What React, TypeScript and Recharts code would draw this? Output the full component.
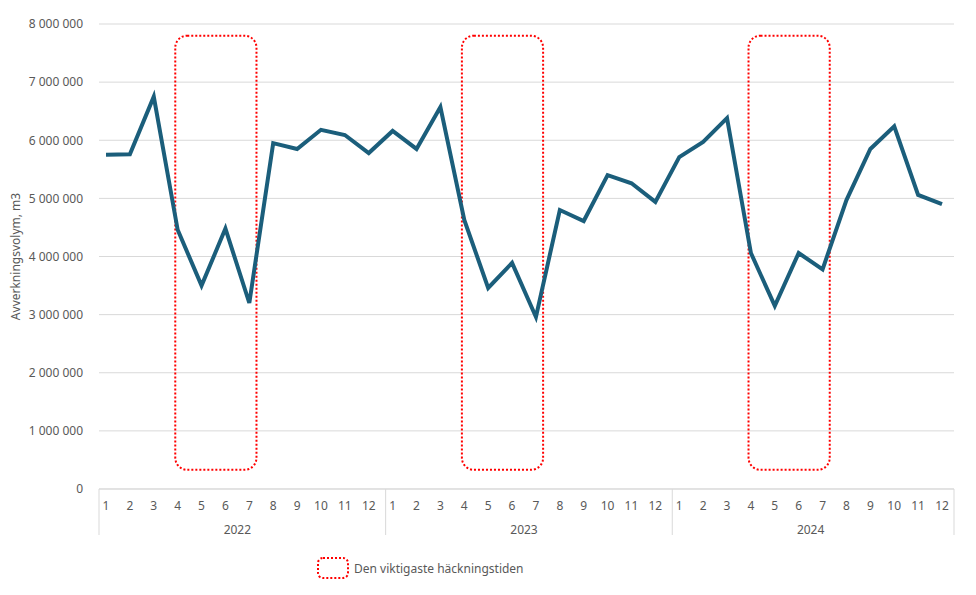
import {
  LineChart, Line, XAxis, YAxis, CartesianGrid,
  ReferenceArea, Legend, Label,
} from 'recharts'

const YEARS = ['2022', '2023', '2024']
const MONTHS = [1, 2, 3, 4, 5, 6, 7, 8, 9, 10, 11, 12]

const VOL_2022 = [5750000, 5760000, 6750000, 4460000, 3500000, 4480000, 3200000, 5950000, 5850000, 6180000, 6090000, 5780000]
const VOL_2023 = [6160000, 5850000, 6570000, 4630000, 3460000, 3890000, 2960000, 4800000, 4610000, 5400000, 5260000, 4940000]
const VOL_2024 = [5710000, 5970000, 6380000, 4060000, 3150000, 4060000, 3780000, 4970000, 5850000, 6240000, 5060000, 4900000]

const Y_TICKS = [0, 1000000, 2000000, 3000000, 4000000, 5000000, 6000000, 7000000, 8000000]

// häckningstid: april–juli
const NEST_FROM = 4
const NEST_TO = 7
const NEST_LOW = 330000
const NEST_HIGH = 7800000

const LEGEND_TEXT = 'Den viktigaste häckningstiden'

const series = [VOL_2022, VOL_2023, VOL_2024]
const data = YEARS.flatMap((y, yi) =>
  MONTHS.map((m, mi) => ({ key: `${y}-${m}`, year: y, month: m, volym: series[yi][mi] }))
)

const W = 960
const H = 580
const MARGIN = { top: 16, right: 14, left: 0, bottom: 7 }
const Y_W = 91
const PAD = { left: 7, right: 12 }
const PLOT_W = W - MARGIN.left - MARGIN.right - Y_W
const STEP = (PLOT_W - PAD.left - PAD.right) / (data.length - 1)

const TXT = '#595959'
const GRID = '#d9d9d9'
const FONT = '"Noto Sans", sans-serif'

const fmt = (v: number) => String(v).replace(/\B(?=(\d{3})+(?!\d))/g, ' ')

function MonthTick(props: any) {
  const { x, y, payload, index } = props
  const d = data[index] ?? data.find(r => r.key === payload.value)
  if (!d) return null
  return (
    <g>
      <text x={x} y={y + 21} textAnchor="middle" fill={TXT} fontSize={12} fontFamily={FONT}>
        {d.month}
      </text>
      {d.month === 1 && (
        <line x1={x - PAD.left} x2={x - PAD.left} y1={y} y2={y + 46} stroke={GRID} />
      )}
      {index === data.length - 1 && (
        <line x1={x + PAD.right} x2={x + PAD.right} y1={y} y2={y + 46} stroke={GRID} />
      )}
      {d.month === 6 && (
        <text x={x + STEP / 2} y={y + 45} textAnchor="middle" fill={TXT} fontSize={12} fontFamily={FONT}>
          {d.year}
        </text>
      )}
    </g>
  )
}

function NestBox(props: any) {
  const { x, y, width, height } = props
  if (x == null) return null
  const left = x - STEP * 0.1
  const right = x + width + STEP * 0.3
  return (
    <rect
      x={left} y={y} width={right - left} height={height}
      rx={12} ry={12} fill="none" stroke="#ff0000" strokeWidth={2} strokeDasharray="2 2"
    />
  )
}

function NestLegend() {
  return (
    <div style={{ display: 'flex', alignItems: 'center', marginLeft: 309, fontFamily: FONT, fontSize: 12, color: TXT }}>
      <svg width={32} height={22} style={{ marginRight: 5 }}>
        <rect x={1} y={1} width={30} height={20} rx={5} fill="none" stroke="#ff0000" strokeWidth={2} strokeDasharray="2 2" />
      </svg>
      {LEGEND_TEXT}
    </div>
  )
}

export default function App() {
  return (
    <LineChart width={W} height={H} data={data} margin={MARGIN}>
      <CartesianGrid vertical={false} stroke={GRID} />
      <XAxis
        dataKey="key"
        interval={0}
        padding={PAD}
        tickLine={false}
        tickSize={0}
        tickMargin={0}
        axisLine={{ stroke: GRID }}
        height={68}
        tick={<MonthTick />}
      />
      <YAxis
        width={Y_W}
        domain={[0, 8000000]}
        ticks={Y_TICKS}
        tickFormatter={fmt}
        axisLine={false}
        tickLine={false}
        tickSize={6}
        tickMargin={10}
        tick={{ fill: TXT, fontSize: 12, fontFamily: FONT }}
      >
        <Label
          value="Avverkningsvolym, m3"
          angle={-90}
          position="insideLeft"
          offset={8}
          style={{ fill: TXT, fontSize: 12, fontFamily: FONT, textAnchor: 'middle' }}
        />
      </YAxis>
      {YEARS.map(y => (
        <ReferenceArea
          key={y}
          x1={`${y}-${NEST_FROM}`}
          x2={`${y}-${NEST_TO}`}
          y1={NEST_LOW}
          y2={NEST_HIGH}
          shape={<NestBox />}
        />
      ))}
      <Line
        type="linear"
        dataKey="volym"
        stroke="#1b5e7b"
        strokeWidth={4}
        dot={false}
        activeDot={false}
        isAnimationActive={false}
      />
      <Legend
        verticalAlign="bottom"
        align="left"
        content={<NestLegend />}
        wrapperStyle={{ height: 24 }}
      />
    </LineChart>
  )
}
